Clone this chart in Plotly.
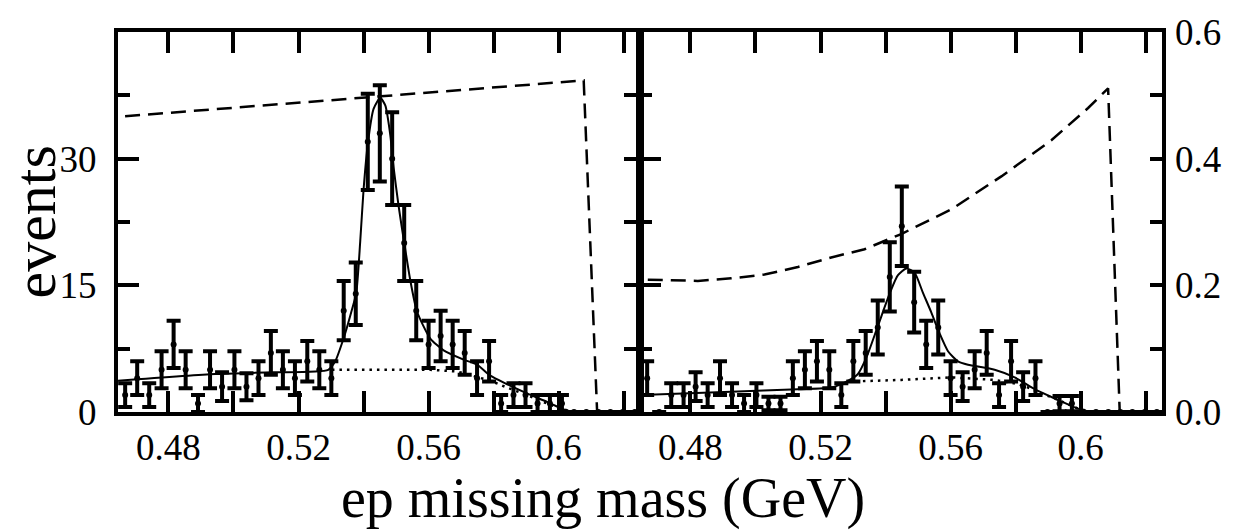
import plotly.graph_objects as go

# ---------------- data ----------------
bins = [0.4667, 0.4704, 0.4741, 0.4779, 0.4816, 0.4853, 0.4891, 0.4928, 0.4965, 0.5003,
        0.5040, 0.5077, 0.5115, 0.5152, 0.5189, 0.5227, 0.5264, 0.5301, 0.5339, 0.5376,
        0.5413, 0.5450, 0.5488, 0.5525, 0.5562, 0.5600, 0.5637, 0.5674, 0.5711, 0.5749,
        0.5786, 0.5823, 0.5861, 0.5898, 0.5935, 0.5973, 0.6010, 0.6047, 0.6085, 0.6122,
        0.6159, 0.6197, 0.6234]

left_counts = [2, 4, 2, 5, 8, 5, 1, 5, 3, 5, 3, 4, 7, 5, 4, 6, 5, 4, 12, 14,
               32, 33, 30, 20, 12, 8, 9, 8, 7, 4, 6, 1, 2, 2, 1, 1, 1, 0, 0, 0,
               0, 0, 0]
left_err = [1.4, 2.0, 1.4, 2.2, 2.8, 2.2, 1.0, 2.2, 1.7, 2.2, 1.6, 2.0, 2.6, 2.2, 2.0, 2.4,
            2.2, 2.0, 3.5, 3.7, 5.7, 5.7, 5.5, 4.5, 3.5, 2.8, 3.0, 2.8, 2.6, 2.0, 2.4, 1.0,
            1.4, 1.4, 1.0, 1.0, 1.0, None, None, None, None, None, None]

right_counts = [4, 0, 2, 2, 3, 2, 4, 2, 1, 2, 1, 1, 4, 5, 6, 5, 2, 6, 7, 10,
                16, 22, 13, 8, 10, 4, 3, 5, 7, 2, 6, 3, 4, 0, 1, 1, 0, 0, 0, 0,
                0, 0, 0]
right_err = [2.0, None, 1.4, 1.4, 1.7, 1.4, 2.0, 1.4, 1.0, 1.4, 0.8, 0.8, 2.0, 2.2, 2.4, 2.2,
             1.4, 2.4, 2.6, 3.2, 4.1, 4.7, 3.6, 2.8, 3.2, 2.0, 1.7, 2.2, 2.6, 1.4, 2.4, 1.7,
             2.0, None, 0.9, 0.9, None, None, None, None, None, None, None]

# fitted curves
left_fit_x = [0.46452, 0.49437, 0.51191, 0.52914, 0.53129, 0.53385, 0.53591, 0.53775, 0.53898,
              0.54000, 0.54135, 0.54308, 0.54514, 0.54668, 0.54822, 0.54923, 0.55077, 0.55252,
              0.55437, 0.55643, 0.56052, 0.56462, 0.57077, 0.57489, 0.57898, 0.58412, 0.59028,
              0.59643, 0.60154, 0.60462, 0.62514]
left_fit_y = [3.7, 4.5, 4.7, 5.0, 6.0, 8.7, 11.4, 14.1, 20.2, 26.3, 31.9, 35.9, 37.2, 36.3,
              32.8, 29.0, 24.4, 20.0, 15.6, 11.9, 8.7, 7.3, 6.2, 5.6, 4.3, 3.3, 2.2, 1.2, 0.3,
              0.0, 0.0]
left_bg_x = [0.53028, 0.56052, 0.56874, 0.57898, 0.58412, 0.59028, 0.59643, 0.60154, 0.60462]
left_bg_y = [5.0, 5.0, 4.8, 3.7, 2.9, 2.0, 1.0, 0.3, 0.0]
left_acc_x = [0.46668, 0.60769, 0.61182]
left_acc_y = [0.467, 0.5235, 0.0]

right_fit_x = [0.46483, 0.49252, 0.51305, 0.52329, 0.52843, 0.53151, 0.53406, 0.53766, 0.54154,
               0.54382, 0.54637, 0.54892, 0.55151, 0.55406, 0.55662, 0.55920, 0.56228, 0.56535,
               0.57354, 0.57969, 0.58585, 0.59200, 0.59920, 0.60329, 0.62545]
right_fit_y = [2.0, 2.4, 2.7, 2.9, 3.7, 4.5, 6.4, 10.2, 14.3, 16.2, 17.0, 16.5, 14.1, 11.8, 9.3,
               7.2, 6.0, 5.6, 5.0, 4.1, 2.7, 1.6, 0.4, 0.0, 0.0]
right_bg_x = [0.52843, 0.54483, 0.56022, 0.56637, 0.57354, 0.58074, 0.58382, 0.58791, 0.59200,
              0.59920, 0.60329]
right_bg_y = [3.6, 3.8, 4.1, 4.0, 3.8, 3.3, 2.9, 2.2, 1.6, 0.4, 0.0]
right_acc_x = [0.46689, 0.48228, 0.49252, 0.50277, 0.51305, 0.52329, 0.53354, 0.54483, 0.56022,
               0.57560, 0.59098, 0.60228, 0.60843, 0.61200]
right_acc_y = [0.209, 0.207, 0.211, 0.217, 0.229, 0.244, 0.257, 0.281, 0.320, 0.372, 0.429,
               0.480, 0.511, 0.0]

x_tickvals = [0.48, 0.52, 0.56, 0.60]
x_ticktext = ["0.48", "0.52", "0.56", "0.6"]
x_minor = [0.50, 0.54, 0.58, 0.62]
y_tickvals = [0, 15, 30]
y_ticktext = ["0", "15", "30"]
y_minor = [7.5, 22.5, 37.5]
r_tickvals = [0.0, 0.2, 0.4, 0.6]
r_ticktext = ["0.0", "0.2", "0.4", "0.6"]
r_minor = [0.1, 0.3, 0.5]

# ---------------- figure ----------------
FONT = "Liberation Serif, Times New Roman, serif"
BLK = "black"
fig = go.Figure()

def add_panel(xa, ya, yr, cnt, err, fx, fy, bx, by, ax_, ay_):
    fig.add_trace(go.Scatter(x=bx, y=by, xaxis=xa, yaxis=ya, mode="lines",
                             line=dict(color=BLK, width=2.5, dash="2.5px,5px"),
                             hoverinfo="skip"))
    fig.add_trace(go.Scatter(x=fx, y=fy, xaxis=xa, yaxis=ya, mode="lines",
                             line=dict(color=BLK, width=2, shape="spline", smoothing=0.6)))
    fig.add_trace(go.Scatter(x=ax_, y=ay_, xaxis=xa, yaxis=yr, mode="lines",
                             line=dict(color=BLK, width=2.5, dash="15px,8px")))
    fig.add_trace(go.Scatter(x=bins, y=cnt, xaxis=xa, yaxis=ya, mode="markers",
                             marker=dict(color=BLK, size=6),
                             error_y=dict(type="data", array=err, visible=True,
                                          color=BLK, thickness=4, width=7)))

add_panel("x", "y", "y4", left_counts, left_err, left_fit_x, left_fit_y,
          left_bg_x, left_bg_y, left_acc_x, left_acc_y)
add_panel("x2", "y2", "y3", right_counts, right_err, right_fit_x, right_fit_y,
          right_bg_x, right_bg_y, right_acc_x, right_acc_y)

tickfont = dict(family=FONT, size=37, color=BLK)
xcommon = dict(range=[0.4645, 0.625], tickvals=x_tickvals, ticktext=x_ticktext,
               ticks="inside", ticklen=21, tickwidth=3.5, tickcolor=BLK,
               minor=dict(tickvals=x_minor, ticks="inside", ticklen=12, tickwidth=3.5,
                          tickcolor=BLK),
               showline=True, linewidth=4, linecolor=BLK, mirror="allticks",
               showgrid=False, zeroline=False, tickfont=tickfont, ticklabelstandoff=0)
ycommon = dict(range=[0, 45], tickvals=y_tickvals, ticktext=y_ticktext,
               ticks="inside", ticklen=21, tickwidth=3.5, tickcolor=BLK,
               minor=dict(tickvals=y_minor, ticks="inside", ticklen=12, tickwidth=3.5,
                          tickcolor=BLK),
               showline=True, linewidth=4, linecolor=BLK, mirror=True,
               showgrid=False, zeroline=False, tickfont=tickfont, ticklabelstandoff=10)

fig.update_layout(
    width=1244, height=531,
    margin=dict(l=118, r=82, t=21, b=119),
    paper_bgcolor="white", plot_bgcolor="white",
    showlegend=False,
    xaxis=dict(domain=[0, 0.5], anchor="y", **xcommon),
    xaxis2=dict(domain=[0.5, 1], anchor="y2", **xcommon),
    yaxis=dict(domain=[0, 1], anchor="x", **ycommon),
    yaxis2=dict(domain=[0, 1], anchor="x2", showticklabels=False, **ycommon),
    yaxis3=dict(overlaying="y2", anchor="x2", side="right", range=[0, 0.6],
                tickvals=r_tickvals, ticktext=r_ticktext, ticks="inside", ticklen=12,
                tickwidth=3.5, tickcolor=BLK,
                minor=dict(tickvals=r_minor, ticks="inside", ticklen=12, tickwidth=3.5,
                           tickcolor=BLK),
                showline=False, showgrid=False, zeroline=False, tickfont=tickfont,
                ticklabelstandoff=12),
    yaxis4=dict(overlaying="y", anchor="x", side="right", range=[0, 0.6],
                tickvals=[0.1, 0.2, 0.3, 0.4, 0.5], ticks="inside", ticklen=16,
                tickwidth=3.5, tickcolor=BLK, showticklabels=False,
                showline=False, showgrid=False, zeroline=False),
    annotations=[
        dict(text="events", xref="paper", yref="paper", x=-0.0795, y=0.4987,
             textangle=-90, showarrow=False, xanchor="center", yanchor="middle",
             font=dict(family=FONT, size=60, color=BLK)),
        dict(text="ep missing mass (GeV)", xref="paper", yref="paper", x=0.4646, y=-0.228,
             showarrow=False, xanchor="center", yanchor="middle",
             font=dict(family=FONT, size=56, color=BLK)),
    ],
)

fig.write_html("out.html")
